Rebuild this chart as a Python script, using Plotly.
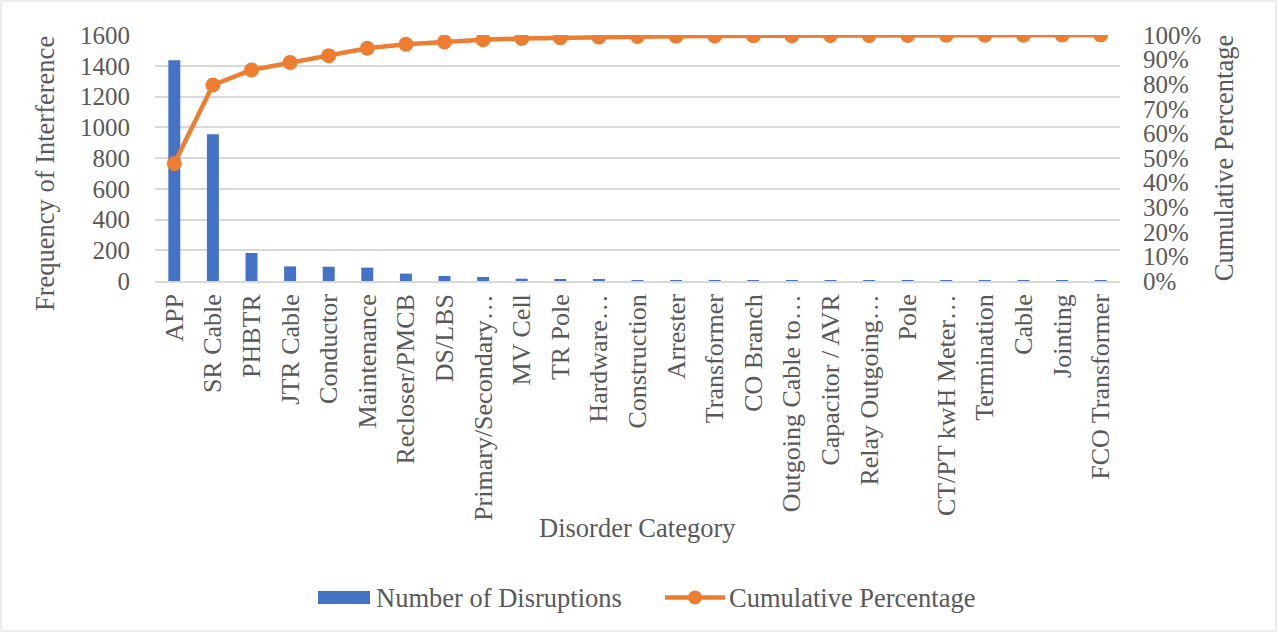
import plotly.graph_objects as go

categories = ["APP", "SR Cable", "PHBTR", "JTR Cable", "Conductor", "Maintenance",
              "Recloser/PMCB", "DS/LBS", "Primary/Secondary…", "MV Cell", "TR Pole",
              "Hardware…", "Construction", "Arrester", "Transformer", "CO Branch",
              "Outgoing Cable to…", "Capacitor / AVR", "Relay Outgoing…", "Pole",
              "CT/PT kwH Meter…", "Termination", "Cable", "Jointing", "FCO Transformer"]
disruptions = [1435, 954, 182, 95, 93, 87, 48, 33, 26, 15, 10, 8, 4, 3, 2, 2, 2,
               1, 1, 1, 1, 1, 1, 1, 1]
cumulative = [0.478, 0.797, 0.858, 0.888, 0.916, 0.946, 0.962, 0.972, 0.981, 0.986,
              0.989, 0.992, 0.994, 0.995, 0.996, 0.997, 0.997, 0.998, 0.998, 0.998,
              0.999, 0.999, 0.999, 1.0, 1.0]
y_ticks = [0, 200, 400, 600, 800, 1000, 1200, 1400, 1600]
y2_ticks = [i / 10 for i in range(11)]

FONT = "Liberation Serif"
GRAY = "#595959"
BLUE = "#4472C4"
ORANGE = "#ED7D31"

L, R, T, B = 155, 1120, 35, 281
W, H = 1279, 633

fig = go.Figure()
fig.add_trace(go.Bar(x=categories, y=disruptions, name="Number of Disruptions",
                     marker=dict(color=BLUE, line=dict(width=0)), yaxis="y",
                     showlegend=False))
fig.add_trace(go.Scatter(x=categories, y=cumulative, name="Cumulative Percentage",
                         mode="lines+markers", yaxis="y2", showlegend=False,
                         line=dict(color=ORANGE, width=4.5),
                         marker=dict(color=ORANGE, size=15)))

def px2x(p):
    return (p - L) / (R - L)

def px2y(p):
    return (B - p) / (B - T)

shapes = [
    # chart border
    dict(type="rect", xref="paper", yref="paper",
         x0=px2x(1), x1=px2x(W - 3), y0=px2y(H - 2), y1=px2y(1),
         line=dict(color="#D9D9D9", width=1), fillcolor="rgba(0,0,0,0)"),
    # legend swatch: bars
    dict(type="rect", xref="paper", yref="paper",
         x0=px2x(318), x1=px2x(370), y0=px2y(604), y1=px2y(591),
         line=dict(width=0), fillcolor=BLUE),
    # legend swatch: line + marker
    dict(type="line", xref="paper", yref="paper",
         x0=px2x(665), x1=px2x(725), y0=px2y(597.5), y1=px2y(597.5),
         line=dict(color=ORANGE, width=4.5)),
    dict(type="circle", xref="paper", yref="paper",
         x0=px2x(688), x1=px2x(702), y0=px2y(604.5), y1=px2y(590.5),
         line=dict(width=0), fillcolor=ORANGE),
]

annotations = [
    dict(text="Number of Disruptions", xref="paper", yref="paper",
         x=px2x(374), y=px2y(598), xanchor="left", yanchor="middle", showarrow=False,
         font=dict(size=26.5, family=FONT, color=GRAY)),
    dict(text="Cumulative Percentage", xref="paper", yref="paper",
         x=px2x(727), y=px2y(598), xanchor="left", yanchor="middle", showarrow=False,
         font=dict(size=26.5, family=FONT, color=GRAY)),
    dict(text="Frequency of Interference", xref="paper", yref="paper",
         x=px2x(45), y=px2y(174), xanchor="center", yanchor="middle", textangle=-90,
         showarrow=False, font=dict(size=26.5, family=FONT, color=GRAY)),
    dict(text="Disorder Category", xref="paper", yref="paper",
         x=px2x(637), y=px2y(528), xanchor="center", yanchor="middle",
         showarrow=False, font=dict(size=26.5, family=FONT, color=GRAY)),
]

fig.update_layout(
    width=W, height=H,
    margin=dict(l=L, r=W - R, t=T, b=H - B, autoexpand=False),
    paper_bgcolor="white", plot_bgcolor="white",
    font=dict(family=FONT, color=GRAY, size=25),
    bargap=0.69,
    showlegend=False,
    xaxis=dict(tickangle=-90, tickfont=dict(size=26), showgrid=False,
               range=[-0.5, len(categories) - 0.5],
               showline=True, linecolor="#D9D9D9", linewidth=1.5,
               ticks="", ticklabelstandoff=1),
    yaxis=dict(range=[0, 1600], tickvals=y_ticks, showgrid=True,
               gridcolor="#D9D9D9", gridwidth=1.5, zeroline=False, ticks="",
               ticklabelstandoff=24, tickfont=dict(size=25)),
    yaxis2=dict(range=[0, 1], tickvals=y2_ticks, tickformat=".0%", overlaying="y",
                side="right", showgrid=False, zeroline=False, ticks="",
                ticklabelstandoff=22, tickfont=dict(size=25),
                title=dict(text="Cumulative Percentage", font=dict(size=26.5), standoff=14)),
    shapes=shapes,
    annotations=annotations,
)

fig.write_html("out.html")
